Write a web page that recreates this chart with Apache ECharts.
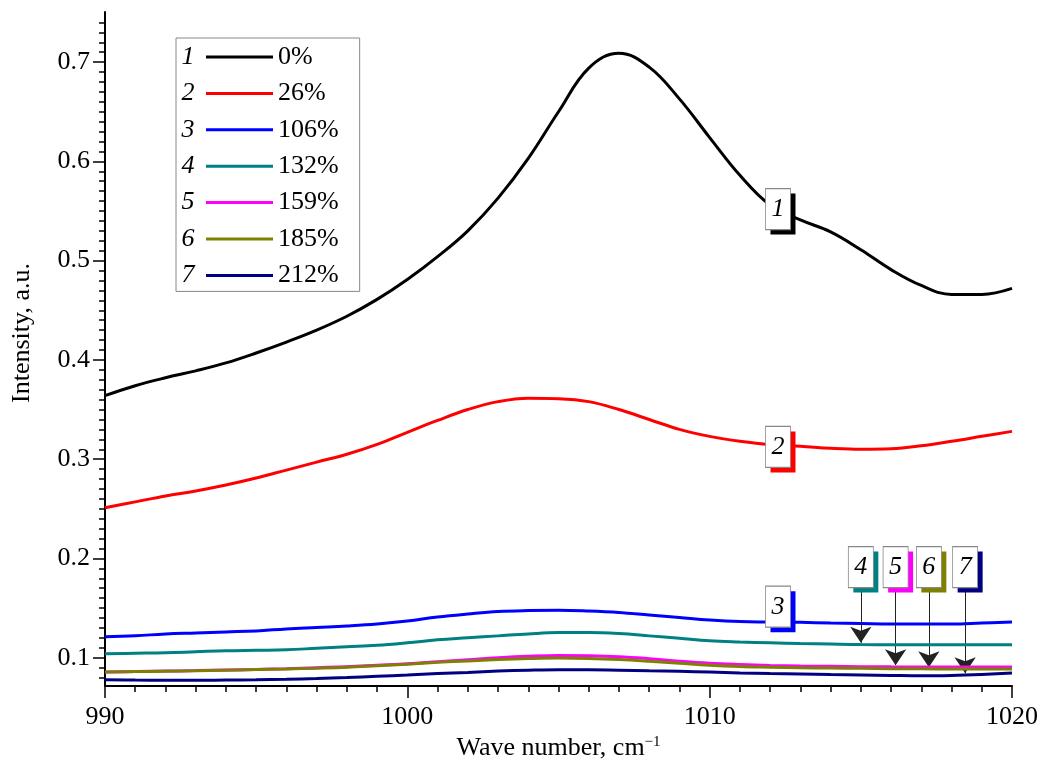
<!DOCTYPE html>
<html>
<head>
<meta charset="utf-8">
<script src="https://cdn.jsdelivr.net/npm/echarts@6/dist/echarts.min.js"></script>
<style>html,body{margin:0;padding:0;background:#fff}#c{width:1043px;height:769px}</style>
</head>
<body>
<div id="c"></div>
<script>
const waveNumbers = [990,991,992,993,994,995,996,997,998,999,1000,1001,1002,1003,1004,1005,1006,1007,1008,1009,1010,1011,1012,1013,1014,1015,1016,1017,1018,1019,1020];
const curve1 = [0.364,0.374,0.382,0.389,0.397,0.407,0.418,0.430,0.444,0.461,0.481,0.504,0.530,0.563,0.603,0.650,0.694,0.709,0.695,0.663,0.624,0.586,0.556,0.541,0.529,0.511,0.491,0.475,0.466,0.466,0.472];
const curve2 = [0.251,0.257,0.263,0.268,0.274,0.281,0.289,0.297,0.305,0.315,0.327,0.339,0.350,0.358,0.3615,0.361,0.358,0.350,0.340,0.330,0.323,0.318,0.3145,0.313,0.311,0.310,0.3105,0.3135,0.318,0.323,0.328];
const curve3 = [0.121,0.122,0.124,0.125,0.126,0.127,0.129,0.1305,0.132,0.134,0.137,0.141,0.144,0.1465,0.1475,0.1478,0.147,0.1455,0.143,0.1405,0.138,0.1364,0.136,0.1356,0.135,0.1345,0.134,0.134,0.134,0.135,0.136];
const curve4 = [0.104,0.1045,0.105,0.106,0.107,0.1075,0.108,0.1095,0.111,0.1125,0.115,0.118,0.120,0.122,0.124,0.1253,0.1253,0.1243,0.122,0.1195,0.117,0.1158,0.115,0.1143,0.1137,0.1132,0.1131,0.113,0.113,0.113,0.113];
const curve5 = [0.0856,0.086,0.0865,0.087,0.0877,0.0882,0.089,0.090,0.091,0.0925,0.094,0.096,0.098,0.100,0.1015,0.1023,0.102,0.101,0.099,0.0965,0.0945,0.0932,0.0922,0.0916,0.0913,0.091,0.0908,0.0907,0.0906,0.0906,0.0906];
const curve6 = [0.0856,0.086,0.0864,0.0868,0.0874,0.088,0.0887,0.0895,0.0905,0.092,0.0935,0.0953,0.0968,0.0982,0.0992,0.0997,0.0993,0.0982,0.0965,0.0945,0.0925,0.0912,0.0905,0.0899,0.0896,0.0893,0.089,0.0888,0.0887,0.0886,0.0886];
const curve7 = [0.0778,0.0775,0.0773,0.0772,0.0775,0.0778,0.0783,0.079,0.080,0.0812,0.0825,0.084,0.0852,0.0865,0.0874,0.0879,0.0878,0.0873,0.0868,0.0863,0.0855,0.0847,0.0841,0.0836,0.0831,0.0827,0.0822,0.0818,0.0822,0.0832,0.0846];
const seriesNames = ['0%','26%','106%','132%','159%','185%','212%'];
const curveNumbers = ['1','2','3','4','5','6','7'];
const colors = ['#000000','#ff0000','#0000ff','#008080','#ff00ff','#808000','#000080'];
const yMajorTicks = [0.1,0.2,0.3,0.4,0.5,0.6,0.7];
const yMinorTicks = [0.08,0.09,0.11,0.12,0.13,0.14,0.15,0.16,0.17,0.18,0.19,0.21,0.22,0.23,0.24,0.25,0.26,0.27,0.28,0.29,0.31,0.32,0.33,0.34,0.35,0.36,0.37,0.38,0.39,0.41,0.42,0.43,0.44,0.45,0.46,0.47,0.48,0.49,0.51,0.52,0.53,0.54,0.55,0.56,0.57,0.58,0.59,0.61,0.62,0.63,0.64,0.65,0.66,0.67,0.68,0.69,0.71,0.72,0.73,0.74];
// label box positions [wave number, intensity]
const labelBoxes = [[1012.26,0.552],[1012.26,0.3123],[1012.26,0.1514],[1015.0,0.1913],[1016.15,0.1913],[1017.25,0.1913],[1018.45,0.1913]];
// arrows for curves 4-7: [wave number, from intensity, to intensity]
const arrows = [null,null,null,[1015.0,0.1706,0.1150],[1016.15,0.1706,0.0925],[1017.25,0.1706,0.0905],[1018.45,0.1706,0.0843]];

const curves = [curve1,curve2,curve3,curve4,curve5,curve6,curve7];
const FONT = '"Liberation Serif","Times New Roman",serif';

const chart = echarts.init(document.getElementById('c'), null, {renderer:'canvas'});

const series = curves.map((c, i) => {
  const s = {
    name: seriesNames[i],
    type: 'line',
    data: waveNumbers.map((x, k) => [x, c[k]]),
    smooth: 0.4,
    symbol: 'none',
    lineStyle: {color: colors[i], width: 3},
    itemStyle: {color: colors[i]},
    z: 2 + i,
    markPoint: {
      silent: true,
      symbol: 'rect',
      symbolSize: [25, 41],
      data: [
        {coord: labelBoxes[i], symbolOffset: [5, 5],
          itemStyle: {color: colors[i], borderWidth: 0},
          label: {show: false}},
        {coord: labelBoxes[i],
          itemStyle: {color: '#ffffff', borderColor: '#888888', borderWidth: 1},
          label: {show: true, position: 'inside', formatter: curveNumbers[i], color: '#000',
            fontFamily: FONT, fontStyle: 'italic', fontSize: 26}}
      ]
    }
  };
  if (arrows[i]) {
    const a = arrows[i];
    s.markLine = {
      silent: true,
      symbol: ['none', 'arrow'],
      symbolSize: 16,
      lineStyle: {color: '#222', width: 1, type: 'solid'},
      itemStyle: {color: '#000'},
      label: {show: false},
      data: [[{coord: [a[0], a[1]]}, {coord: [a[0], a[2]]}]]
    };
  }
  return s;
});

const axisCommon = {
  axisLine: {show: true, lineStyle: {color: '#000', width: 2}},
  splitLine: {show: false}
};

const option = {
  animation: false,
  backgroundColor: '#ffffff',
  grid: {left: 105, right: 31, top: 12, bottom: 83},
  legend: {
    orient: 'vertical',
    left: 176, top: 38,
    padding: [6, 21, 3, 30],
    itemGap: 10.4,
    icon: 'rect',
    itemWidth: 67, itemHeight: 3,
    borderColor: '#888', borderWidth: 1,
    textStyle: {fontFamily: FONT, fontSize: 26, color: '#000'},
    data: seriesNames
  },
  graphic: curveNumbers.map((n, i) => ({
    type: 'text', x: 188, y: 57 + i * 36.4,
    style: {text: n, fill: '#000', font: 'italic 26px ' + FONT, align: 'center', verticalAlign: 'middle'}
  })),
  xAxis: Object.assign({}, axisCommon, {
    type: 'value', min: 990, max: 1020, interval: 10,
    name: 'Wave number, cm{sup|−1}',
    nameLocation: 'middle', nameGap: 46,
    nameTextStyle: {fontFamily: FONT, fontSize: 26, color: '#000',
      rich: {sup: {fontFamily: FONT, fontSize: 15, verticalAlign: 'top', padding: [0,0,12,0]}}},
    axisTick: {show: true, inside: false, length: 12, lineStyle: {color: '#000', width: 1.5}},
    minorTick: {show: true, splitNumber: 10, length: 6, lineStyle: {color: '#000', width: 1.5}},
    axisLabel: {fontFamily: FONT, fontSize: 26, color: '#000', margin: 18, formatter: v => String(v)}
  }),
  yAxis: [
    Object.assign({}, axisCommon, {
      type: 'value', min: 0.0715, max: 0.7505,
      name: 'Intensity, a.u.',
      nameLocation: 'middle', nameGap: 70,
      nameTextStyle: {fontFamily: FONT, fontSize: 26, color: '#000', padding: [0, 0, 0, 32]},
      axisTick: {show: true, inside: false, length: 12, customValues: yMajorTicks, lineStyle: {color: '#000', width: 1.5}},
      axisLabel: {fontFamily: FONT, fontSize: 26, color: '#000', margin: 15, customValues: yMajorTicks,
        formatter: v => v.toFixed(1)}
    }),
    {
      type: 'value', min: 0.0715, max: 0.7505, position: 'left',
      axisLine: {show: false}, splitLine: {show: false},
      axisLabel: {show: false},
      axisTick: {show: true, inside: false, length: 6, customValues: yMinorTicks, lineStyle: {color: '#000', width: 1.5}}
    }
  ],
  series: series
};
chart.setOption(option);
</script>
</body>
</html>
